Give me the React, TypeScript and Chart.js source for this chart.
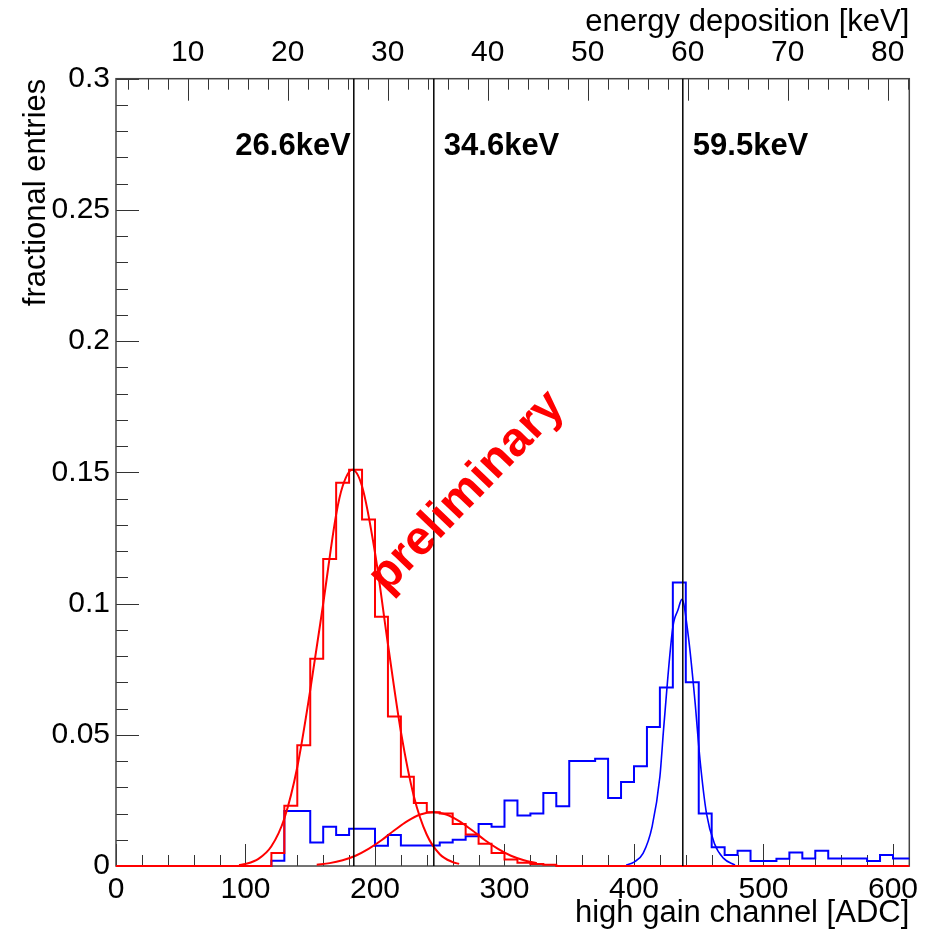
import React, { useEffect, useRef } from "react";
import { Chart, registerables } from "chart.js";

Chart.register(...registerables);

// ---- axes ----
const ADC_MIN = 0;
const ADC_MAX = 612.6;
const KEV_MIN = 2.82;
const KEV_MAX = 82.15;
const Y_MIN = 0;
const Y_MAX = 0.3;

// ---- histograms (10 ADC bins) ----
const BIN_WIDTH = 10;
const RED_START = 120;
const redCounts = [
  0.005, 0.023, 0.046, 0.079, 0.117, 0.146, 0.151, 0.132, 0.095, 0.057, 0.034,
  0.024, 0.0205, 0.02, 0.016, 0.012, 0.0085, 0.005, 0.0025, 0.0012, 0.0008, 0.0005,
];
const BLUE_START = 120;
const blueCounts = [
  0.002, 0.021, 0.021, 0.009, 0.015, 0.0118, 0.0142, 0.0142, 0.0077, 0.0118,
  0.0078, 0.0078, 0.0078, 0.009, 0.01, 0.0113, 0.016, 0.015, 0.025, 0.0192,
  0.02, 0.0278, 0.0228, 0.04, 0.04, 0.0409, 0.0259, 0.032, 0.038, 0.053, 0.068,
  0.108, 0.07, 0.02, 0.0071, 0.0042, 0.0058, 0.0019, 0.0019, 0.0028, 0.0051,
  0.0029, 0.0058, 0.0029, 0.0029, 0.0029, 0.0019, 0.0042, 0.0029, 0.0029,
];

// ---- fitted curves ----
const redFit1X = [95, 100, 110, 120, 130, 140, 150, 160, 170, 175, 182.5, 190, 200, 210, 220, 230, 240, 250, 260, 265];
const redFit1Y = [0.0004, 0.0008, 0.0027, 0.0075, 0.0181, 0.0377, 0.067, 0.1, 0.1339, 0.1447, 0.151, 0.1447, 0.1194, 0.0845, 0.0512, 0.0266, 0.0119, 0.0045, 0.0015, 0.0008];
const redFit2X = [155, 165, 175, 185, 195, 205, 215, 225, 235, 245, 255, 265, 275, 285, 295, 305, 315, 325];
const redFit2Y = [0.0005, 0.0011, 0.0022, 0.0039, 0.0065, 0.0098, 0.0136, 0.0171, 0.0196, 0.0205, 0.0196, 0.0171, 0.0136, 0.0098, 0.0065, 0.0039, 0.0022, 0.0011];
const blueFitX = [394, 400, 407, 414, 420, 423, 430, 434, 437, 442, 447, 451, 456, 462, 469, 478];
const blueFitY = [0.0004, 0.0015, 0.0048, 0.015, 0.034, 0.053, 0.091, 0.0976, 0.1016, 0.0874, 0.0633, 0.0404, 0.02, 0.0087, 0.003, 0.0004];

// ---- reference lines (keV) ----
const lineEnergies = [26.6, 34.6, 59.5];
const lineLabels = ["26.6keV", "34.6keV", "59.5keV"];
const LABEL_Y = 0.274;

const FONT = "'Liberation Sans', Arial, Helvetica, sans-serif";

function histPoints(start: number, counts: number[]) {
  const pts: { x: number; y: number }[] = [];
  for (let e = ADC_MIN; e <= 610; e += BIN_WIDTH) {
    const i = Math.round((e - start) / BIN_WIDTH);
    const v = i >= 0 && i < counts.length ? counts[i] : 0;
    pts.push({ x: e, y: v });
  }
  pts.push({ x: 620, y: pts[pts.length - 1].y });
  return pts;
}

function zipPts(xs: number[], ys: number[]) {
  return xs.map((x, i) => ({ x, y: ys[i] }));
}

const overlay = {
  id: "overlay",
  beforeDatasetsDraw(chart: any) {
    const { ctx, chartArea: a, scales } = chart;
    ctx.save();
    ctx.strokeStyle = "#333";
    ctx.lineWidth = 1;
    ctx.beginPath();
    for (let v = 0; v <= 612; v += 20) {
      const px = Math.round(scales.x.getPixelForValue(v)) + 0.5;
      const len = v % 100 === 0 ? 22 : 11;
      ctx.moveTo(px, a.bottom);
      ctx.lineTo(px, a.bottom - len);
    }
    for (let v = 4; v <= 82; v += 2) {
      const px = Math.round(scales.x2.getPixelForValue(v)) + 0.5;
      const len = v % 10 === 0 ? 22 : 11;
      ctx.moveTo(px, a.top);
      ctx.lineTo(px, a.top + len);
    }
    for (let k = 0; k <= 30; k++) {
      const v = k / 100;
      const py = Math.round(scales.y.getPixelForValue(v)) + 0.5;
      const len = k % 5 === 0 ? 23 : 12;
      ctx.moveTo(a.left, py);
      ctx.lineTo(a.left + len, py);
    }
    ctx.stroke();
    ctx.strokeStyle = "#444";
    ctx.lineWidth = 1.5;
    ctx.strokeRect(a.left, a.top, a.right - a.left, a.bottom - a.top);
    ctx.restore();
  },
  afterDatasetsDraw(chart: any) {
    const { ctx, scales } = chart;
    ctx.save();
    ctx.fillStyle = "#000";
    ctx.font = `bold 31px ${FONT}`;
    ctx.textBaseline = "middle";
    const ly = scales.y.getPixelForValue(LABEL_Y);
    lineEnergies.forEach((e, i) => {
      const px = scales.x2.getPixelForValue(e);
      if (i === 0) {
        ctx.textAlign = "right";
        ctx.fillText(lineLabels[i], px - 3, ly);
      } else {
        ctx.textAlign = "left";
        ctx.fillText(lineLabels[i], px + 10, ly);
      }
    });
    ctx.fillStyle = "#ff0000";
    ctx.font = `bold 48px ${FONT}`;
    ctx.textAlign = "center";
    ctx.textBaseline = "middle";
    ctx.translate(467, 492);
    ctx.rotate((-46 * Math.PI) / 180);
    ctx.fillText("preliminary", 0, 0);
    ctx.restore();
  },
};

export default function App() {
  const ref = useRef<HTMLCanvasElement | null>(null);
  useEffect(() => {
    if (!ref.current) return;
    const font = { family: FONT, size: 30 };
    const tfont = { family: FONT, size: 31 };
    const clip = { left: 0, right: 0, top: 4, bottom: 4 };
    const grid = { display: false, drawTicks: false, tickLength: 0 };
    const chart = new Chart(ref.current, {
      type: "line",
      data: {
        datasets: [
          ...lineEnergies.map((e) => ({
            data: [
              { x: e, y: Y_MIN },
              { x: e, y: Y_MAX },
            ],
            xAxisID: "x2",
            yAxisID: "y",
            borderColor: "#000",
            borderWidth: 1.5,
            pointRadius: 0,
            order: -1,
            clip,
          })),
          {
            data: zipPts(redFit1X, redFit1Y),
            xAxisID: "x",
            yAxisID: "y",
            borderColor: "#ff0000",
            borderWidth: 2,
            pointRadius: 0,
            cubicInterpolationMode: "monotone",
            order: 0,
            clip,
          },
          {
            data: zipPts(redFit2X, redFit2Y),
            xAxisID: "x",
            yAxisID: "y",
            borderColor: "#ff0000",
            borderWidth: 2,
            pointRadius: 0,
            cubicInterpolationMode: "monotone",
            order: 0,
            clip,
          },
          {
            data: histPoints(RED_START, redCounts),
            xAxisID: "x",
            yAxisID: "y",
            borderColor: "#ff0000",
            borderWidth: 2,
            pointRadius: 0,
            stepped: "before",
            order: 1,
            clip,
          },
          {
            data: zipPts(blueFitX, blueFitY),
            xAxisID: "x",
            yAxisID: "y",
            borderColor: "#0000ff",
            borderWidth: 1.6,
            pointRadius: 0,
            cubicInterpolationMode: "monotone",
            order: 2,
            clip,
          },
          {
            data: histPoints(BLUE_START, blueCounts),
            xAxisID: "x",
            yAxisID: "y",
            borderColor: "#0000ff",
            borderWidth: 2,
            pointRadius: 0,
            stepped: "before",
            order: 3,
            clip,
          },
        ] as any,
      },
      options: {
        animation: false,
        responsive: false,
        devicePixelRatio: 1,
        layout: { padding: { left: 0, right: 16.7, top: 0, bottom: 0 } },
        plugins: { legend: { display: false }, tooltip: { enabled: false } },
        scales: {
          x: {
            type: "linear",
            position: "bottom",
            min: ADC_MIN,
            max: ADC_MAX,
            grid,
            border: { display: false },
            ticks: {
              stepSize: 100,
              includeBounds: false,
              autoSkip: false,
              maxRotation: 0,
              padding: 6,
              color: "#000",
              font,
              callback: (v: any) => String(v),
            },
            title: {
              display: true,
              text: "high gain channel [ADC]",
              align: "end",
              color: "#000",
              font: tfont,
              padding: { top: 0, bottom: 3 },
            },
            afterFit: (s: any) => {
              s.height = 69;
            },
          },
          x2: {
            type: "linear",
            position: "top",
            min: KEV_MIN,
            max: KEV_MAX,
            grid,
            border: { display: false },
            ticks: {
              stepSize: 10,
              includeBounds: false,
              autoSkip: false,
              maxRotation: 0,
              padding: 8,
              color: "#000",
              font,
              callback: (v: any) => String(v),
            },
            title: {
              display: true,
              text: "energy deposition [keV]",
              align: "end",
              color: "#000",
              font: tfont,
              padding: { top: 4, bottom: 0 },
            },
            afterFit: (s: any) => {
              s.height = 78.7;
            },
          },
          y: {
            type: "linear",
            position: "left",
            min: Y_MIN,
            max: Y_MAX,
            grid,
            border: { display: false },
            ticks: {
              stepSize: 0.05,
              includeBounds: false,
              autoSkip: false,
              padding: 6,
              color: "#000",
              font,
              callback: (v: any) => String(+Number(v).toFixed(2)),
            },
            title: {
              display: true,
              text: "fractional entries",
              align: "end",
              color: "#000",
              font: tfont,
              padding: { top: 18, bottom: 0 },
            },
            afterFit: (s: any) => {
              s.width = 116;
            },
          },
        },
      } as any,
      plugins: [overlay],
    });
    return () => chart.destroy();
  }, []);
  return (
    <div style={{ position: "absolute", left: 0, top: 0, width: 926, height: 935, background: "#fff" }}>
      <canvas ref={ref} width={926} height={935} style={{ width: 926, height: 935, display: "block" }} />
    </div>
  );
}
